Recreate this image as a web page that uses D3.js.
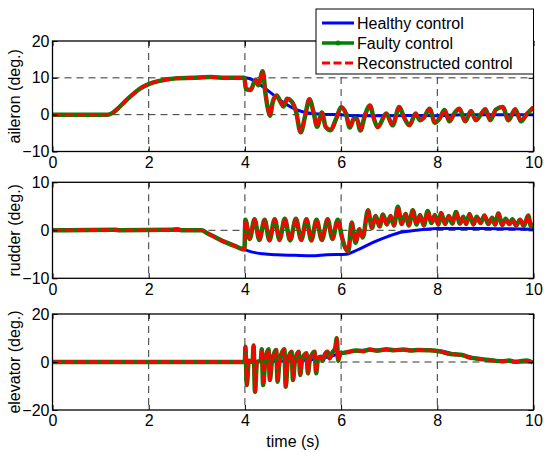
<!DOCTYPE html>
<html><head><meta charset="utf-8">
<script src="https://cdn.jsdelivr.net/npm/d3@7"></script>
<style>
body{margin:0;background:#fff;}
svg text{font-family:"Liberation Sans",Arial,sans-serif;font-size:16px;fill:#000;}
</style></head>
<body><svg id="c" width="544" height="452"></svg>
<script>
// ---------- data ----------
const xTicks = [0, 2, 4, 6, 8, 10];
const aileronTicks = [-10, 0, 10, 20];
const rudderTicks = [-10, 0, 10];
const elevatorTicks = [-20, 0, 20];
const legendLabels = ["Healthy control", "Faulty control", "Reconstructed control"];
const yLabels = ["aileron (deg.)", "rudder (deg.)", "elevator (deg.)"];

const aileronHealthy = [[0,0],[1.15,0],[1.25,0.5],[1.4,2.2],[1.5,3.5],[1.65,5.3],[1.8,6.9],[2.0,8.3],[2.2,9.1],[2.4,9.6],[2.6,9.9],[2.9,10],[3.3,10.2],[3.6,10],[4.0,10],[4.2,9.2],[4.4,7.3],[4.6,5.3],[4.8,3.3],[5.0,1.8],[5.2,0.8],[5.4,0.3],[5.7,0.05],[6.0,0],[6.3,-0.3],[7.0,-0.3],[7.6,-0.2],[8.0,-0.3],[8.5,0],[10,0]];
const aileronFaulty = [[0,0],[1.15,0],[1.25,0.5],[1.4,2.2],[1.5,3.5],[1.65,5.3],[1.8,6.9],[2.0,8.3],[2.2,9.1],[2.4,9.6],[2.6,9.9],[2.9,10],[3.3,10.2],[3.6,10],[3.99,10],[4.02,7],[4.12,6.7],[4.22,9.5],[4.28,8],[4.37,11.8],[4.43,5.5],[4.48,1.5],[4.52,-0.3],[4.58,3.5],[4.66,5.2],[4.75,3.2],[4.8,2.2],[4.88,4.3],[4.97,3.6],[5.06,1],[5.16,-4.8],[5.25,-0.5],[5.34,4.2],[5.43,0.5],[5.5,-3.3],[5.6,0.6],[5.68,-3.3],[5.78,-4.2],[5.9,-1],[6.0,2],[6.1,0.3],[6.18,-3.5],[6.27,-1],[6.33,-1.2],[6.4,-4.3],[6.5,0],[6.6,2.5],[6.68,-1],[6.76,-3.4],[6.94,0.3],[7.07,-2.9],[7.21,2.1],[7.3,-0.5],[7.42,-2.9],[7.55,0.3],[7.64,-1.5],[7.72,-0.8],[7.84,1.6],[7.95,-2.2],[8.05,-1],[8.15,1.3],[8.25,-1.8],[8.36,0.5],[8.46,1.6],[8.58,-1.8],[8.7,1],[8.8,-1.5],[8.9,0],[9.0,1.5],[9.1,-1.5],[9.22,1.4],[9.36,2.1],[9.48,-1.5],[9.62,1.5],[9.74,-1.8],[9.85,0],[10.0,2.0]];
const aileronReconstructed = aileronFaulty.map(d => [d[0], d[1]]);

const rudderHealthy = [[0,0],[3.1,0],[3.22,-0.6],[3.51,-2.1],[3.8,-3.3],[3.99,-4.0],[4.1,-4.4],[4.38,-4.9],[4.67,-5.1],[5.03,-5.2],[5.39,-5.3],[5.7,-5.1],[6.11,-5.0],[6.2,-4.7],[6.4,-3.8],[6.69,-2.4],[6.98,-1.25],[7.27,-0.35],[7.55,0],[7.99,0.35],[8.5,0.4],[9.0,0.35],[9.5,0.3],[10,0.2]];
const rudderFaulty = [[0,0],[1.3,0.1],[1.4,0],[2.45,0.1],[2.6,0.2],[2.7,0],[3.1,0],[3.22,-0.6],[3.51,-2.1],[3.8,-3.3],[3.99,-4.0],[4.01,2.2],[4.1,-1.8],[4.2,2.3],[4.3,-2.0],[4.41,2.2],[4.51,-2.1],[4.62,2.3],[4.72,-2.0],[4.83,2.4],[4.94,-2.1],[5.06,2.4],[5.17,-2.0],[5.28,2.3],[5.38,-2.1],[5.49,2.2],[5.6,-2.0],[5.72,2.3],[5.82,-1.8],[5.93,2.2],[6.02,-1.5],[6.08,-3.5],[6.15,-4.4],[6.22,1.6],[6.3,-2.6],[6.38,0.2],[6.45,-1.5],[6.56,4.2],[6.64,0.5],[6.72,3.0],[6.8,0.8],[6.87,3.3],[6.95,1.2],[7.03,3.0],[7.1,1.0],[7.18,4.9],[7.26,1.3],[7.34,3.4],[7.41,1.0],[7.49,4.2],[7.57,1.2],[7.64,3.2],[7.72,1.0],[7.8,4.0],[7.88,1.5],[7.95,3.2],[8.02,1.2],[8.08,3.6],[8.16,1.3],[8.24,3.0],[8.31,1.4],[8.39,3.8],[8.47,1.4],[8.54,2.8],[8.6,1.3],[8.67,3.4],[8.75,1.2],[8.82,2.8],[8.9,1.5],[8.98,3.1],[9.06,1.3],[9.14,2.6],[9.2,1.2],[9.27,3.5],[9.35,1.1],[9.42,2.4],[9.5,1.3],[9.56,2.3],[9.64,1.0],[9.72,2.2],[9.8,0.9],[9.89,3.1],[9.95,0.8],[10.0,1.5]];
const rudderReconstructed = rudderFaulty.map(d => [d[0], d[1]]);

const elevatorHealthy = [[0,0],[4,0],[4.5,0.3],[5.0,0.5],[5.5,1.2],[5.8,2.5],[6.0,3.6],[6.3,4.6],[6.6,5.0],[7.0,5.0],[7.5,5.0],[8.0,4.8],[8.3,3.6],[8.6,2.4],[9.0,1.0],[9.4,0.3],[10,0]];
const elevatorFaulty = [[0,0],[4.0,0],[4.01,6.4],[4.04,-9.6],[4.08,0.5],[4.16,0],[4.18,6.9],[4.21,-12.4],[4.25,0],[4.33,0.5],[4.35,5.3],[4.38,-9.6],[4.42,0],[4.49,5.3],[4.52,-7.5],[4.56,0],[4.65,5.0],[4.68,-8.2],[4.72,0.5],[4.82,5.3],[4.85,-10.3],[4.89,0.5],[4.97,4.3],[5.0,-7.5],[5.04,0.5],[5.12,4.3],[5.15,-5.4],[5.19,1],[5.28,3.6],[5.31,-4.7],[5.35,1],[5.45,4.3],[5.48,-4.7],[5.52,1.5],[5.58,2.2],[5.62,0.5],[5.66,3],[5.72,4.3],[5.76,1.5],[5.82,4],[5.88,6],[5.91,9.9],[5.94,0.5],[5.98,3.6],[6.05,3.8],[6.18,4.3],[6.3,4.8],[6.45,4.5],[6.6,5.2],[6.75,4.7],[6.94,5.3],[7.1,4.9],[7.3,5.2],[7.45,4.8],[7.6,5.0],[7.8,4.9],[7.97,4.7],[8.1,4.2],[8.2,3.6],[8.35,3.2],[8.52,2.9],[8.65,2.0],[8.8,1.5],[8.95,1.1],[9.07,0.8],[9.2,0.5],[9.35,0.3],[9.5,0.6],[9.6,0.1],[9.7,0.2],[9.85,0.6],[9.98,-0.2]];
const elevatorReconstructed = elevatorFaulty.map(d => [d[0], d[1]]);

// ---------- layout ----------
const svg = d3.select("#c");
const x = d3.scaleLinear().domain([0, 10]).range([52.5, 533.5]);
const panels = [
  {label: yLabels[0], dom: [-10, 20], range: [151.5, 41], ticks: aileronTicks, grid: [0, 10], series: [aileronHealthy, aileronFaulty, aileronReconstructed]},
  {label: yLabels[1], dom: [-10, 10], range: [278.3, 182.3], ticks: rudderTicks, grid: [0], series: [rudderHealthy, rudderFaulty, rudderReconstructed]},
  {label: yLabels[2], dom: [-20, 20], range: [410, 314], ticks: elevatorTicks, grid: [0], series: [elevatorHealthy, elevatorFaulty, elevatorReconstructed]}
];
const colors = ["#0000ff", "#008000", "#ff0000"];

panels.forEach((p, i) => {
  const y = d3.scaleLinear().domain(p.dom).range(p.range);
  const g = svg.append("g");
  const [x0, x1] = x.range();
  const [yb, yt] = p.range;
  g.append("rect").attr("x", x0).attr("y", yt).attr("width", x1 - x0).attr("height", yb - yt).attr("fill", "#fff");
  xTicks.filter(t => t > 0 && t < 10).forEach(t => {
    g.append("line").attr("x1", x(t)).attr("x2", x(t)).attr("y1", yt).attr("y2", yb)
      .attr("stroke", "#333").attr("stroke-width", 1).attr("stroke-dasharray", "7,5");
  });
  p.grid.forEach(v => {
    g.append("line").attr("x1", x0).attr("x2", x1).attr("y1", y(v)).attr("y2", y(v))
      .attr("stroke", "#333").attr("stroke-width", 1).attr("stroke-dasharray", "7,5");
  });
  const cid = "clip" + i;
  svg.append("clipPath").attr("id", cid).append("rect").attr("x", x0).attr("y", yt).attr("width", x1 - x0).attr("height", yb - yt);
  const line = d3.line().x(d => x(d[0])).y(d => y(d[1])).curve(d3.curveMonotoneX);
  const lg = g.append("g").attr("clip-path", `url(#${cid})`);
  lg.append("path").attr("d", line(p.series[0])).attr("fill", "none").attr("stroke", colors[0]).attr("stroke-width", 3);
  lg.append("path").attr("d", line(p.series[1])).attr("fill", "none").attr("stroke", colors[1]).attr("stroke-width", 4.5).attr("stroke-linejoin", "round");
  lg.append("path").attr("d", line(p.series[2])).attr("fill", "none").attr("stroke", colors[2]).attr("stroke-width", 3.3).attr("stroke-dasharray", "9,3");
  g.append("g").attr("transform", `translate(0,${yb})`)
    .call(d3.axisBottom(x).tickValues(xTicks).tickSize(-5).tickSizeOuter(0).tickPadding(5).tickFormat(d3.format("d")));
  g.append("g").attr("transform", `translate(0,${yt})`)
    .call(d3.axisTop(x).tickValues(xTicks).tickSize(-5).tickSizeOuter(0).tickFormat(""));
  g.append("g").attr("transform", `translate(${x0},0)`)
    .call(d3.axisLeft(y).tickValues(p.ticks).tickSize(-5).tickSizeOuter(0).tickPadding(3).tickFormat(d3.format("d")));
  g.append("g").attr("transform", `translate(${x1},0)`)
    .call(d3.axisRight(y).tickValues(p.ticks).tickSize(-5).tickSizeOuter(0).tickFormat(""));
  g.selectAll(".domain").remove();
  g.selectAll(".tick line").attr("stroke", "#000");
  g.selectAll(".tick text").style("font-size", "16px").attr("fill", "#000");
  g.append("rect").attr("x", x0).attr("y", yt).attr("width", x1 - x0).attr("height", yb - yt)
    .attr("fill", "none").attr("stroke", "#000").attr("stroke-width", 1.3);
  svg.append("text").attr("transform", `translate(14,${(yb + yt) / 2}) rotate(-90)`)
    .attr("text-anchor", "middle").attr("dy", "0.35em").text(p.label);
});

svg.append("text").attr("x", 293).attr("y", 447).attr("text-anchor", "middle").text("time (s)");

const leg = svg.append("g");
leg.append("rect").attr("x", 316).attr("y", 9).attr("width", 217.5).attr("height", 65)
  .attr("fill", "#fff").attr("stroke", "#000").attr("stroke-width", 1);
const ly = [23, 43, 63];
legendLabels.forEach((t, i) => {
  const l = leg.append("line").attr("x1", 322).attr("x2", 354).attr("y1", ly[i]).attr("y2", ly[i])
    .attr("stroke", colors[i]).attr("stroke-width", i === 1 ? 3.5 : 3);
  if (i === 2) l.attr("stroke-dasharray", "8,3.5");
  if (i === 1) leg.append("circle").attr("cx", 338).attr("cy", ly[i]).attr("r", 2.5).attr("fill", colors[1]);
  leg.append("text").attr("x", 357).attr("y", ly[i]).attr("dy", "0.36em").text(t);
});
</script></body></html>
